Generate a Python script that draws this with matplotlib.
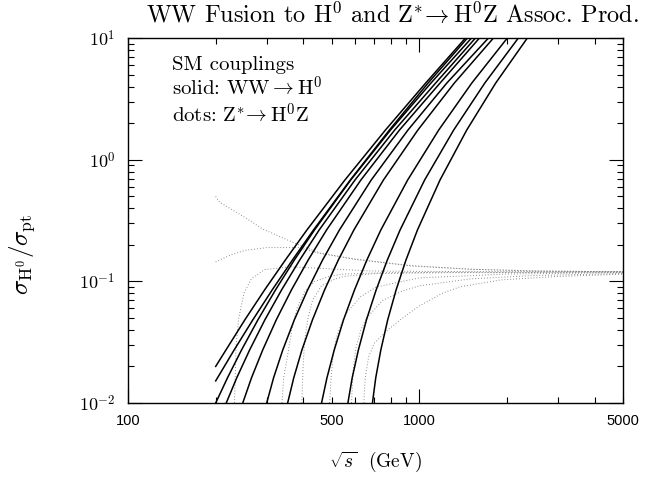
import matplotlib
matplotlib.use('Agg')
import matplotlib.pyplot as plt
from matplotlib.ticker import FixedLocator, FixedFormatter, NullFormatter

plt.rcParams['mathtext.fontset'] = 'cm'
plt.rcParams['axes.unicode_minus'] = False

# solid curves: WW fusion -> H0, sqrt(s) in GeV vs sigma/sigma_pt
ww_sqrts = [
    [200.0, 216.9, 251.8, 294.3, 346.8, 411.2, 555.3, 765.0, 1051.8, 1437],
    [200.0, 231.4, 268.2, 312.5, 366.8, 433.2, 579.4, 789.4, 1071.8, 1460],
    [200.0, 219.5, 245.3, 279.2, 320.8, 372.3, 436.6, 581.3, 796.2, 1096.5, 1507],
    [217.4, 236.2, 261.5, 295.0, 336.6, 388.5, 453.1, 601.3, 823.0, 1137.9, 1555],
    [247.7, 265.4, 290.0, 322.8, 363.9, 415.4, 480.3, 630.0, 854.8, 1178.4, 1605],
    [299.3, 316.0, 339.8, 372.3, 413.5, 465.4, 531.7, 683.8, 914.0, 1243, 1723],
    [353.2, 370.6, 395.3, 429.7, 472.8, 527.1, 596.1, 752.9, 988.3, 1319, 1793],
    [461.7, 481.8, 510.4, 549.2, 599.0, 660.5, 737.6, 911.8, 1165.4, 1514, 2001],
    [568.6, 588.2, 617.7, 658.4, 710.7, 776.4, 858.8, 1042.7, 1311.8, 1678, 2183],
    [690.3, 708.5, 737.6, 778.8, 832.2, 899.7, 985.2, 1177.5, 1454.4, 1829, 2344],
]
ww_ratio = [
    [0.0200, 0.0273, 0.0483, 0.0851, 0.150, 0.265, 0.683, 1.76, 4.29, 10.0],
    [0.0152, 0.0273, 0.0483, 0.0851, 0.150, 0.265, 0.683, 1.76, 4.29, 10.0],
    [0.0100, 0.0161, 0.0273, 0.0483, 0.0851, 0.150, 0.265, 0.683, 1.76, 4.29, 10.0],
    [0.0100, 0.0161, 0.0273, 0.0483, 0.0851, 0.150, 0.265, 0.683, 1.76, 4.29, 10.0],
    [0.0100, 0.0161, 0.0273, 0.0483, 0.0851, 0.150, 0.265, 0.683, 1.76, 4.29, 10.0],
    [0.0100, 0.0161, 0.0273, 0.0483, 0.0851, 0.150, 0.265, 0.683, 1.76, 4.29, 10.0],
    [0.0100, 0.0161, 0.0273, 0.0483, 0.0851, 0.150, 0.265, 0.683, 1.76, 4.29, 10.0],
    [0.0100, 0.0161, 0.0273, 0.0483, 0.0851, 0.150, 0.265, 0.683, 1.76, 4.29, 10.0],
    [0.0100, 0.0161, 0.0273, 0.0483, 0.0851, 0.150, 0.265, 0.683, 1.76, 4.29, 10.0],
    [0.0100, 0.0161, 0.0273, 0.0483, 0.0851, 0.150, 0.265, 0.683, 1.76, 4.29, 10.0],
]

# dotted curves: Z* -> H0 Z
zh_sqrts = [
    [200, 206, 250, 290, 385, 454, 600, 936, 1500, 2500, 5000],
    [200, 225, 252, 300, 385, 454, 600, 936, 1500, 2500, 5000],
    [232, 235, 240, 250, 265, 294, 360, 492, 673, 1000, 2000, 5000],
    [338, 342, 352, 365, 380, 405, 437, 490, 550, 750, 1200, 5000],
    [395, 399, 404, 415, 430, 461, 511, 550, 700, 1200, 5000],
    [492, 497, 506, 520, 540, 562, 630, 711, 1000, 2000, 5000],
    [585, 592, 605, 630, 658, 750, 870, 1000, 1500, 2500, 5000],
    [645, 652, 670, 700, 780, 867, 989, 1200, 1372, 1906, 3000, 4200, 5000],
]
zh_ratio = [
    [0.50, 0.45, 0.34, 0.27, 0.20, 0.172, 0.153, 0.135, 0.126, 0.122, 0.120],
    [0.145, 0.165, 0.18, 0.19, 0.19, 0.17, 0.152, 0.134, 0.126, 0.122, 0.120],
    [0.010, 0.03, 0.05, 0.08, 0.105, 0.125, 0.132, 0.127, 0.122, 0.121, 0.120, 0.120],
    [0.010, 0.016, 0.0236, 0.04, 0.06, 0.083, 0.10, 0.11, 0.115, 0.118, 0.119, 0.120],
    [0.010, 0.020, 0.033, 0.05, 0.07, 0.092, 0.104, 0.11, 0.116, 0.118, 0.119],
    [0.010, 0.015, 0.025, 0.035, 0.045, 0.055, 0.075, 0.09, 0.107, 0.115, 0.118],
    [0.010, 0.018, 0.028, 0.04, 0.05, 0.07, 0.083, 0.092, 0.105, 0.112, 0.116],
    [0.010, 0.016, 0.024, 0.031, 0.04, 0.049, 0.062, 0.08, 0.09, 0.103, 0.11, 0.113, 0.115],
]

x_major = [100, 1000]
x_minor = [200, 300, 400, 500, 600, 700, 800, 900, 2000, 3000, 4000, 5000]
x_minor_labels = ['', '', '', '500', '', '', '', '', '', '', '', '5000']
y_major = [0.01, 0.1, 1, 10]
y_labels = [r'$10^{-2}$', r'$10^{-1}$', r'$10^{0}$', r'$10^{1}$']

fig = plt.figure(figsize=(6.48, 4.82), dpi=100)
ax = fig.add_axes([0.1975, 0.1639, 0.7639, 0.7566])

for xs, ys in zip(zh_sqrts, zh_ratio):
    ax.plot(xs, ys, color='0.45', lw=0.7, ls=(0, (0.8, 2.2)))
for xs, ys in zip(ww_sqrts, ww_ratio):
    ax.plot(xs, ys, color='black', lw=1.1)

ax.set_xscale('log')
ax.set_yscale('log')
ax.set_xlim(100, 5000)
ax.set_ylim(0.01, 10)

ax.xaxis.set_major_locator(FixedLocator(x_major))
ax.xaxis.set_major_formatter(FixedFormatter(['100', '1000']))
ax.xaxis.set_minor_locator(FixedLocator(x_minor))
ax.xaxis.set_minor_formatter(FixedFormatter(x_minor_labels))
ax.yaxis.set_major_locator(FixedLocator(y_major))
ax.yaxis.set_major_formatter(FixedFormatter(y_labels))
ax.yaxis.set_minor_locator(FixedLocator([m * d for d in (0.01, 0.1, 1) for m in range(2, 10)]))
ax.yaxis.set_minor_formatter(NullFormatter())

ax.tick_params(which='both', direction='in', top=True, right=True, width=0.8)
ax.tick_params(which='major', length=10)
ax.tick_params(which='minor', length=4.5)
ax.tick_params(axis='x', which='both', pad=8, labelsize=10.5)
ax.tick_params(axis='y', which='major', pad=9, labelsize=13)
for lab in ax.get_xticklabels(which='both'):
    lab.set_fontfamily('Liberation Sans')
for s in ax.spines.values():
    s.set_linewidth(1.0)

fig.text(0.605, 0.97, r'WW Fusion to H$^0$ and Z$^{\ast}\!\rightarrow$H$^0$Z Assoc. Prod.',
         ha='center', va='center', fontsize=17.5, family='cmr10')
fig.text(0.034, 0.473, r'$\sigma_{\mathrm{H}^0}/\sigma_{\mathrm{pt}}$', rotation=90,
         ha='center', va='center', fontsize=18)
fig.text(0.58, 0.041, r'$\sqrt{s}$  (GeV)', ha='center', va='center',
         fontsize=14, family='cmr10')

tx = 172 / 648
fig.text(tx, 1 - 70 / 482, 'SM couplings', fontsize=15, family='cmr10', va='baseline')
fig.text(tx, 1 - 96 / 482, r'solid: WW$\rightarrow$H$^0$', fontsize=15, family='cmr10', va='baseline')
fig.text(tx, 1 - 123 / 482, r'dots: Z$^{\ast}\!\rightarrow$H$^0$Z', fontsize=15, family='cmr10', va='baseline')

fig.savefig('out.png', dpi=100)
